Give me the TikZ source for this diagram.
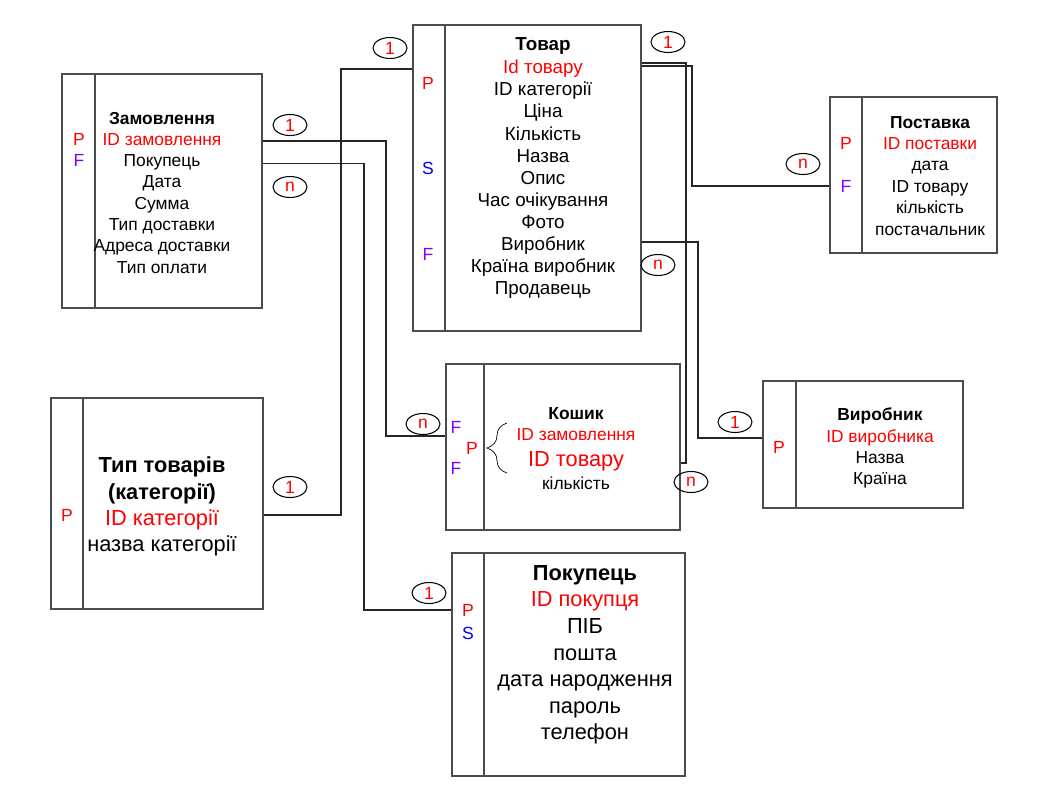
\documentclass[tikz,border=0pt]{standalone}
\usepackage{fontspec}
\setmainfont{Liberation Sans}
\usetikzlibrary{shapes.geometric,calc,decorations.pathreplacing}
\definecolor{keyred}{HTML}{FF0000}
\definecolor{keyviolet}{HTML}{7F00FF}
\definecolor{keyblue}{HTML}{0000FF}
\newcommand{\szA}{\fontsize{9.9}{12}\selectfont}
\newcommand{\szB}{\fontsize{10.7}{13}\selectfont}
\newcommand{\szC}{\fontsize{12.4}{15}\selectfont}
\tikzset{
  entity/.style={draw=black!70, line width=1pt, inner sep=0pt},
  divider/.style={draw=black!70, line width=1pt},
  link/.style={draw=black!85, line width=0.85pt},
  card/.style={ellipse, draw, line width=0.6pt, minimum width=0.68cm,
    minimum height=0.42cm, inner sep=0pt, text=red, font=\fontsize{10}{10}\selectfont},
  attr/.style={inner sep=0pt, text height=7.1pt, text depth=0pt, font=\szA},
  attrb/.style={inner sep=0pt, text height=7.7pt, text depth=0pt, font=\szB},
  attrc/.style={inner sep=0pt, text height=8.9pt, text depth=0pt, font=\szC},
  head/.style={attr, font=\szA\bfseries},
  headb/.style={attrb, font=\szB\bfseries},
  headc/.style={attrc, font=\szC\bfseries},
  key/.style={inner sep=0pt, text height=7.2pt, text depth=0pt, font=\fontsize{10}{12}\selectfont},
  pk/.style={key, text=keyred},
  fk/.style={key, text=keyviolet},
  sk/.style={key, text=keyblue}
}

\begin{document}
\begin{tikzpicture}[x=0.02cm,y=-0.02cm]
  \fill[white] (0,0) rectangle (1044,789);

  % Замовлення
  \node [entity, minimum width=4cm, minimum height=4.68cm] (zam) at (162,191) {};
  \draw [divider] ([xshift=0.68cm]zam.north west) -- ([xshift=0.68cm]zam.south west);
  \node [head]             (zam-t)  at (162,118) {Замовлення};
  \node [attr, text=keyred] (zam-id) at (162,139) {ID замовлення};
  \foreach \txt [count=\i] in {Покупець, Дата, Сумма, Тип доставки, Адреса доставки, Тип оплати}
    \node [attr] (zam-\i) at (162,{139+21.3*\i}) {\txt};
  \node [pk] (zam-p) at (79,139) {P};
  \node [fk] (zam-f) at (79,160) {F};

  % Товар
  \node [entity, minimum width=4.56cm, minimum height=6.12cm] (tov) at (527,178) {};
  \draw [divider] ([xshift=0.66cm]tov.north west) -- ([xshift=0.66cm]tov.south west);
  \node [headb]             (tov-t)  at (543,44) {Товар};
  \node [attrb, text=keyred] (tov-id) at (543,67) {Id товару};
  \foreach \txt [count=\i] in {ID категорії, Ціна, Кількість, Назва, Опис, Час очікування, Фото, Виробник, Країна виробник, Продавець}
    \node [attrb] (tov-\i) at (543,{67+22.1*\i}) {\txt};
  \node [pk] (tov-p) at (428,83)  {P};
  \node [sk] (tov-s) at (428,168) {S};
  \node [fk] (tov-f) at (428,254) {F};

  % Поставка
  \node [entity, minimum width=3.34cm, minimum height=3.12cm] (post) at (913.5,175) {};
  \draw [divider] ([xshift=0.66cm]post.north west) -- ([xshift=0.66cm]post.south west);
  \node [head]             (post-t)  at (930,122) {Поставка};
  \node [attr, text=keyred] (post-id) at (930,143) {ID поставки};
  \foreach \txt [count=\i] in {дата, ID товару, кількість, постачальник}
    \node [attr] (post-\i) at (930,{143+21.5*\i}) {\txt};
  \node [pk] (post-p) at (846,143) {P};
  \node [fk] (post-f) at (846,186) {F};

  % Кошик
  \node [entity, minimum width=4.68cm, minimum height=3.32cm] (kosh) at (563,447) {};
  \draw [divider] ([xshift=0.78cm]kosh.north west) -- ([xshift=0.78cm]kosh.south west);
  \node [head]              (kosh-t)   at (576,413) {Кошик};
  \node [attr, text=keyred]  (kosh-id)  at (576,434) {ID замовлення};
  \node [attrc, text=keyred] (kosh-tov) at (576,459) {ID товару};
  \node [attr]              (kosh-1)   at (576,483) {кількість};
  \node [fk] (kosh-f1) at (456,427) {F};
  \node [pk] (kosh-p)  at (472,448) {P};
  \node [fk] (kosh-f2) at (456,468) {F};
  \draw [decorate, decoration={brace, amplitude=0.4cm}] (507,473) -- (507,423);

  % Виробник
  \node [entity, minimum width=4cm, minimum height=2.54cm] (vyr) at (863,444.5) {};
  \draw [divider] ([xshift=0.68cm]vyr.north west) -- ([xshift=0.68cm]vyr.south west);
  \node [head]             (vyr-t)  at (880,414) {Виробник};
  \node [attr, text=keyred] (vyr-id) at (880,436) {ID виробника};
  \node [attr]             (vyr-1)  at (880,457) {Назва};
  \node [attr]             (vyr-2)  at (880,478) {Країна};
  \node [pk] (vyr-p) at (779,447) {P};

  % Тип товарів
  \node [entity, minimum width=4.24cm, minimum height=4.22cm] (typ) at (157,503.5) {};
  \draw [divider] ([xshift=0.66cm]typ.north west) -- ([xshift=0.66cm]typ.south west);
  \node [headc]             (typ-t1) at (162,465) {Тип товарів};
  \node [headc]             (typ-t2) at (162,492) {(категорії)};
  \node [attrc, text=keyred] (typ-id) at (162,518) {ID категорії};
  \node [attrc]             (typ-1)  at (162,544) {назва категорії};
  \node [pk] (typ-p) at (67,515) {P};

  % Покупець
  \node [entity, minimum width=4.66cm, minimum height=4.46cm] (pok) at (568.5,664.5) {};
  \draw [divider] ([xshift=0.66cm]pok.north west) -- ([xshift=0.66cm]pok.south west);
  \node [headc]             (pok-t)  at (585,573) {Покупець};
  \node [attrc, text=keyred] (pok-id) at (585,599) {ID покупця};
  \foreach \txt [count=\i] in {ПІБ, пошта, дата народження, пароль, телефон}
    \node [attrc] (pok-\i) at (585,{599+26.6*\i}) {\txt};
  \node [pk] (pok-p) at (468,610) {P};
  \node [sk] (pok-s) at (468,633) {S};

  % зв'язки
  \draw [link] ($(zam.east |- zam-id)+(0,2)$) -- ++(123,0) |- ($(kosh.west |- kosh-id)+(0,2)$);
  \draw [link] ($(zam.east |- zam-1)+(0,3)$) -- ++(101,0) |- (pok.west |- pok-p);
  \draw [link] (typ.east |- typ-p) -- ++(77,0) |- ($(tov.west |- tov-id)+(0,2)$);
  \draw [link] ($(tov.east |- tov-id)+(0,-1)$) -- ++(50,0) |- (post.west |- post-f);
  \draw [link] ($(tov.east |- tov-id)+(0,-4)$) -- ++(44,0) |- ($(kosh.east |- kosh-tov)+(0,4)$);
  \draw [link] ($(tov.east |- tov-8)+(0,-2)$) -- ++(56,0) |- ($(vyr.west |- vyr-id)+(0,2)$);

  % кратності
  \node [card] (c-zam1)  at (290,125) {1};
  \node [card] (c-zamn)  at (290,187) {n};
  \node [card] (c-tov1)  at (390,48)  {1};
  \node [card] (c-tov2)  at (668,42)  {1};
  \node [card] (c-tovn)  at (658,265) {n};
  \node [card] (c-kosh1) at (423,424) {n};
  \node [card] (c-kosh2) at (691,482) {n};
  \node [card] (c-vyr)   at (735,422) {1};
  \node [card] (c-post)  at (803,164) {n};
  \node [card] (c-typ)   at (290,487) {1};
  \node [card] (c-pok)   at (429,593) {1};
\end{tikzpicture}
\end{document}
